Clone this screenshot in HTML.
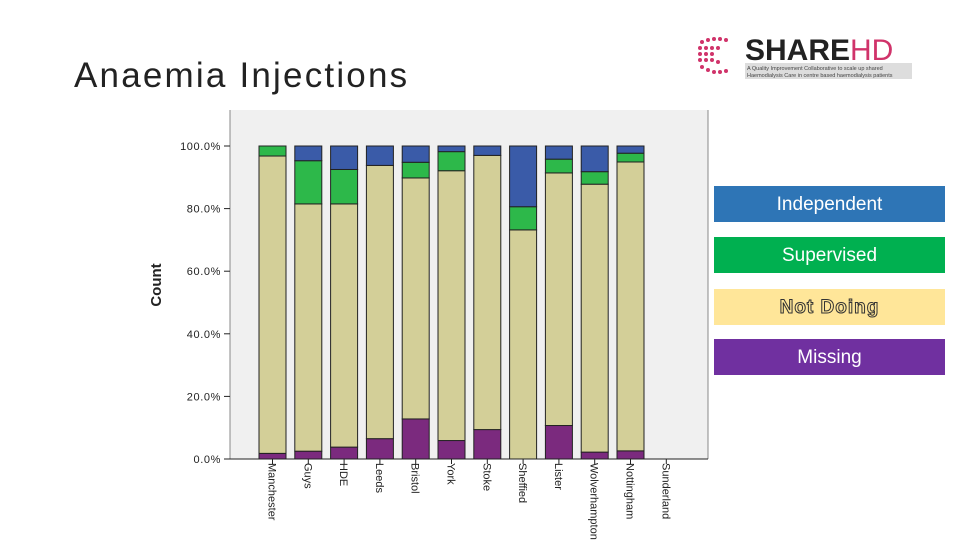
<!DOCTYPE html>
<html><head><meta charset="utf-8"><style>
body{margin:0;width:960px;height:540px;background:#fff;position:relative;overflow:hidden;font-family:"Liberation Sans",sans-serif}
.title{position:absolute;left:74px;top:56px;font-size:35px;color:#222;letter-spacing:2.2px}
.leg{position:absolute;left:714px;width:231px;height:36px;color:#fff;font-size:19px;text-align:center;line-height:38px}
</style></head><body>
<div class="title">Anaemia Injections</div>
<svg style="position:absolute;left:690px;top:30px" width="230" height="55">
<g fill="#d0336a">
<circle cx="12" cy="12" r="2"/><circle cx="18" cy="10" r="2"/><circle cx="24" cy="9" r="2"/><circle cx="30" cy="9" r="2"/><circle cx="36" cy="10" r="2"/>
<circle cx="10" cy="18" r="2"/><circle cx="16" cy="18" r="2"/><circle cx="22" cy="18" r="2"/><circle cx="28" cy="18" r="2"/>
<circle cx="10" cy="24" r="2"/><circle cx="16" cy="24" r="2"/><circle cx="22" cy="24" r="2"/>
<circle cx="10" cy="30" r="2"/><circle cx="16" cy="30" r="2"/><circle cx="22" cy="30" r="2"/><circle cx="28" cy="32" r="2"/>
<circle cx="12" cy="37" r="2"/><circle cx="18" cy="40" r="2"/><circle cx="24" cy="42" r="2"/><circle cx="30" cy="42" r="2"/><circle cx="36" cy="41" r="2"/>
</g>
<text x="55" y="30" font-family="Liberation Sans" font-weight="bold" font-size="30" fill="#222">SHARE<tspan fill="#d0336a" font-weight="normal">HD</tspan></text>
<rect x="55" y="33" width="167" height="16" fill="#ddd"/>
<text x="57" y="40" font-size="5.5" fill="#444">A Quality Improvement Collaborative to scale up shared</text>
<text x="57" y="47" font-size="5.5" fill="#444">Haemodialysis Care in centre based haemodialysis patients</text>
</svg>
<svg id="chart" style="position:absolute;left:0;top:0" width="960" height="540"></svg>
<div class="leg" style="top:186px;background:#2e75b6">Independent</div>
<div class="leg" style="top:237px;background:#00b050">Supervised</div>
<div class="leg" style="top:289px;background:#ffe699;color:#ffe699;-webkit-text-stroke:1px #333;font-weight:bold;letter-spacing:1px">Not Doing</div>
<div class="leg" style="top:339px;background:#7030a0">Missing</div>
<script>
const categories=["Manchester","Guys","HDE","Leeds","Bristol","York","Stoke","Sheffied","Lister","Wolverhampton","Nottingham","Sunderland"];
const missing=[1.8,2.5,3.8,6.5,12.8,5.9,9.4,0,10.7,2.2,2.6,0];
const notDoing=[95.0,79.0,77.7,87.3,77.0,86.2,87.6,73.2,80.7,85.6,92.3,0];
const supervised=[3.2,13.8,11.0,0,5.0,6.1,0,7.4,4.4,4.0,2.8,0];
const independent=[0,4.7,7.5,6.2,5.2,1.8,3.0,19.4,4.2,8.2,2.3,0];
const yTicks=[0,20,40,60,80,100];
const svg=document.getElementById('chart');const NS='http://www.w3.org/2000/svg';
function mk(t,a,p){const e=document.createElementNS(NS,t);for(const k in a)e.setAttribute(k,a[k]);(p||svg).appendChild(e);return e;}
const y0=459,y100=146,x0=259,step=35.8,bw=27;
const Y=v=>y0-(y0-y100)*v/100, X=i=>x0+i*step;
const bg=mk('rect',{x:230,y:110,width:478,height:349,fill:'#f0f0f0'});


mk('line',{x1:230,y1:110,x2:230,y2:459,stroke:'#888'});
mk('line',{x1:708,y1:110,x2:708,y2:459,stroke:'#888'});
mk('line',{x1:230,y1:459,x2:708,y2:459,stroke:'#222'});
yTicks.forEach(v=>{
 mk('line',{x1:224,y1:Y(v),x2:230,y2:Y(v),stroke:'#222'});
 const t=mk('text',{x:221,y:Y(v)+4,'text-anchor':'end','font-size':11,fill:'#222','letter-spacing':'0.6'});
 t.textContent=v.toFixed(1)+'%';
 
 
});
const yt=mk('text',{x:0,y:0,transform:'translate(161,285) rotate(-90)','text-anchor':'middle','font-size':15,'font-weight':'bold',fill:'#222'});
yt.textContent='Count';


const series=[[missing,'#7b2a7e','missing'],[notDoing,'#d3cf98','not-doing'],[supervised,'#2db84a','supervised'],[independent,'#3a5ba8','independent']];
categories.forEach((c,i)=>{
 let acc=0;
 series.forEach(([arr,col,nm])=>{
  const v=arr[i]; if(v>0){
   const r=mk('rect',{x:X(i),y:Y(acc+v),width:bw,height:Y(acc)-Y(acc+v),fill:col,stroke:'#222','stroke-width':1});
   
   
  }
  acc+=v;
 });
 const cx=X(i)+bw/2;
 mk('line',{x1:cx,y1:459,x2:cx,y2:464,stroke:'#222'});
 const t=mk('text',{x:0,y:0,transform:`translate(${cx-4},463) rotate(90)`,'font-size':11,fill:'#222'});
 t.textContent=c;
 
 
});
</script>
</body></html>
